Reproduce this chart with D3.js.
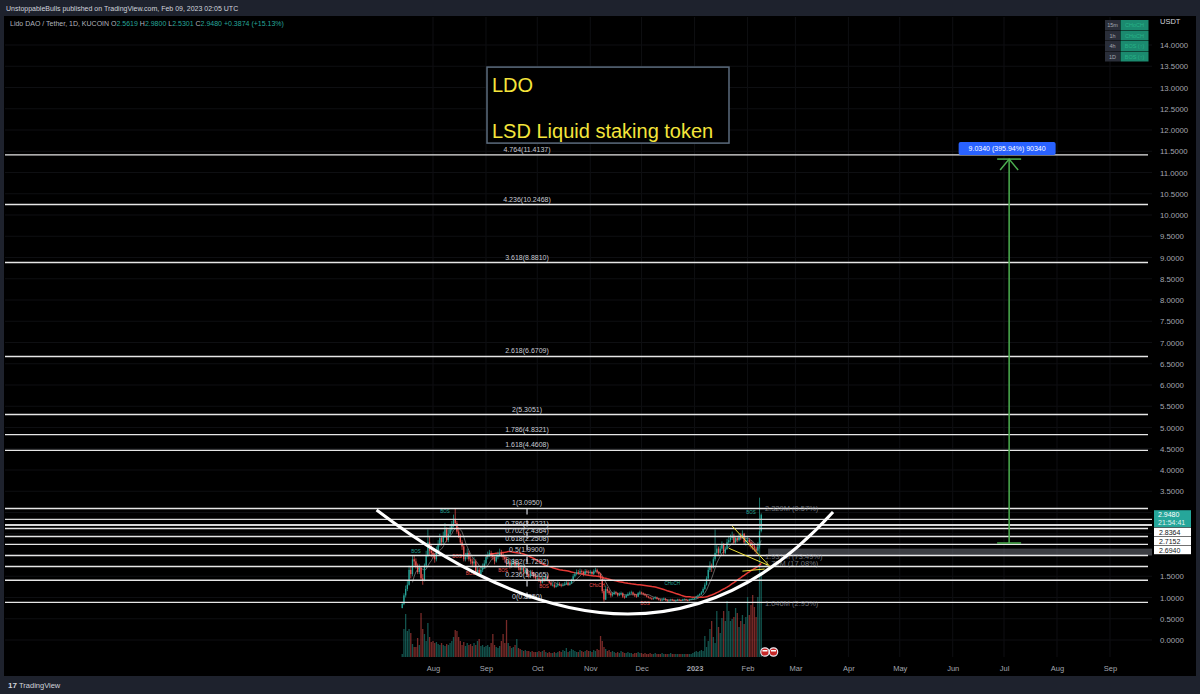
<!DOCTYPE html>
<html><head><meta charset="utf-8">
<script src="https://cdn.jsdelivr.net/npm/d3@7"></script>
<style>
body{margin:0;background:#1e222d;}
svg{display:block;font-family:"Liberation Sans",Arial,sans-serif;}
</style></head>
<body><svg id="c" width="1200" height="694"></svg>
<script>
// ---------------- DATA ----------------
const startDay = "2022-07-14";
const firstOpen = 0.75;
const lastOpen = 2.5619;
const closeJul = [0.85,1.05,1.2,1.3,1.65,1.55,1.9,1.85,1.75,1.6,1.7,1.45,1.4,1.75,2.0,2.3,2.1,2.05];
const highJul  = [0.9,1.1,1.28,1.4,1.75,1.72,1.98,2.0,1.92,1.8,1.78,1.72,1.55,1.8,2.1,2.6,2.45,2.25];
const lowJul   = [0.78,0.82,1.0,1.15,1.28,1.45,1.5,1.75,1.68,1.55,1.55,1.4,1.3,1.38,1.7,1.95,2.0,1.95];
const volJul   = [3,28,43,26,28,24,13,10,10,19,12,44,28,23,16,34,20,15];

const closeAug = [2.0,1.9,2.1,2.25,2.4,2.3,2.45,2.6,2.35,2.5,2.6,2.7,2.85,2.75,2.55,2.45,2.3,2.2,1.9,1.95,2.05,1.9,1.85,1.8,1.85,1.6,1.65,1.55,1.65,1.7,1.8];
const highAug  = [2.15,2.05,2.2,2.35,2.5,2.45,2.55,2.75,2.65,2.6,2.7,2.8,2.95,3.095,2.8,2.65,2.5,2.35,2.25,2.05,2.15,2.1,1.98,1.92,1.95,1.9,1.72,1.7,1.72,1.8,1.88];
const lowAug   = [1.92,1.82,1.85,2.05,2.2,2.22,2.25,2.4,2.3,2.3,2.45,2.55,2.65,2.7,2.5,2.4,2.25,2.12,1.85,1.85,1.9,1.85,1.78,1.72,1.75,1.55,1.55,1.5,1.52,1.6,1.68];
const volAug   = [16,14,15,13,12,14,12,11,13,12,14,16,20,27,26,20,16,12,15,11,14,12,13,11,14,12,16,18,11,12,10];

const closeSep = [1.95,2.0,2.05,2.0,1.95,1.85,1.95,2.0,2.05,2.0,1.95,1.9,1.8,1.85,1.75,1.8,1.85,1.75,1.8,1.7,1.65,1.7,1.6,1.65,1.55,1.5,1.6,1.55,1.5,1.45];
const highSep  = [2.02,2.08,2.12,2.1,2.05,2.0,2.02,2.08,2.15,2.12,2.05,2.0,1.95,1.92,1.9,1.88,1.92,1.9,1.86,1.85,1.76,1.78,1.75,1.7,1.7,1.62,1.65,1.65,1.6,1.56];
const lowSep   = [1.75,1.9,1.95,1.92,1.88,1.78,1.82,1.9,1.95,1.95,1.88,1.82,1.72,1.75,1.68,1.7,1.76,1.7,1.7,1.64,1.58,1.6,1.55,1.56,1.5,1.45,1.46,1.5,1.45,1.4];
const volSep   = [11,12,10,14,23,12,10,9,11,16,23,14,37,14,11,9,10,12,18,9,8,7,6,7,6,6,5,6,5,5];

const closeOct = [1.45,1.4,1.35,1.45,1.4,1.5,1.4,1.35,1.3,1.3,1.25,1.28,1.32,1.3,1.28,1.3,1.32,1.35,1.3,1.33,1.4,1.5,1.55,1.6,1.58,1.62,1.6,1.55,1.62,1.6,1.58];
const highOct  = [1.52,1.5,1.45,1.5,1.48,1.56,1.52,1.42,1.38,1.36,1.34,1.33,1.38,1.36,1.33,1.34,1.37,1.4,1.38,1.37,1.44,1.55,1.6,1.66,1.65,1.68,1.66,1.63,1.67,1.66,1.64];
const lowOct   = [1.4,1.36,1.32,1.33,1.36,1.38,1.38,1.32,1.27,1.26,1.22,1.23,1.25,1.27,1.24,1.26,1.28,1.3,1.27,1.28,1.32,1.38,1.47,1.52,1.54,1.55,1.56,1.5,1.53,1.56,1.54];
const volOct   = [5,6,5,6,7,5,4,5,4,4,5,4,5,6,5,7,6,9,5,6,8,7,6,5,5,7,6,5,6,7,6];

const closeNov = [1.6,1.55,1.62,1.65,1.6,1.55,1.45,1.15,0.95,1.2,1.15,1.1,1.05,1.08,1.12,1.1,1.05,1.08,1.1,1.02,1.0,1.05,1.08,1.1,1.12,1.08,1.05,1.02,1.1,1.12];
const highNov  = [1.65,1.63,1.66,1.7,1.68,1.62,1.58,1.48,1.2,1.28,1.25,1.18,1.14,1.13,1.16,1.15,1.12,1.12,1.14,1.12,1.05,1.08,1.12,1.14,1.16,1.14,1.1,1.08,1.13,1.16];
const lowNov   = [1.54,1.52,1.53,1.6,1.56,1.5,1.42,1.1,0.9,0.94,1.1,1.06,1.0,1.02,1.06,1.06,1.02,1.03,1.05,0.99,0.97,0.99,1.03,1.06,1.08,1.05,1.01,0.99,1.01,1.07];
const volNov   = [6,5,7,6,8,7,21,16,10,8,6,7,5,6,5,4,5,4,6,5,4,4,5,4,4,3,4,4,5,4];

const closeDec = [1.1,1.08,1.05,1.02,1.0,0.98,0.96,0.98,1.0,0.97,0.95,0.93,0.95,0.97,0.94,0.92,0.93,0.95,0.94,0.92,0.93,0.95,0.94,0.93,0.95,0.96,0.94,0.93,0.95,0.96,0.97];
const highDec  = [1.14,1.12,1.1,1.07,1.04,1.02,1.0,1.0,1.03,1.02,0.99,0.97,0.98,1.0,0.99,0.96,0.95,0.97,0.97,0.95,0.95,0.97,0.97,0.95,0.97,0.98,0.97,0.95,0.97,0.98,0.99];
const lowDec   = [1.07,1.05,1.03,1.0,0.98,0.96,0.94,0.95,0.96,0.95,0.93,0.91,0.91,0.93,0.92,0.885,0.9,0.91,0.92,0.9,0.9,0.92,0.92,0.91,0.92,0.93,0.92,0.91,0.92,0.94,0.95];
const volDec   = [4,3,4,3,3,4,3,3,4,3,3,3,4,3,3,3,3,4,3,3,3,3,3,3,3,3,3,3,3,3,4];

const closeJan = [0.99,1.02,1.05,1.08,1.12,1.2,1.3,1.45,1.65,1.75,1.7,1.9,2.05,2.15,2.05,2.15,2.25,2.05,2.15,2.3,2.35,2.4,2.45,2.3,2.4,2.35,2.45,2.4,2.5,2.3,2.35];
const highJan  = [1.0,1.04,1.07,1.1,1.15,1.24,1.35,1.5,1.72,1.85,1.8,1.95,2.6,2.25,2.2,2.22,2.32,2.28,2.2,2.38,2.45,2.48,2.55,2.5,2.45,2.45,2.5,2.52,2.58,2.52,2.42];
const lowJan   = [0.95,0.97,1.0,1.03,1.06,1.1,1.18,1.28,1.42,1.6,1.6,1.68,1.85,2.0,1.98,2.02,2.1,2.0,2.02,2.12,2.25,2.3,2.35,2.25,2.26,2.3,2.32,2.35,2.38,2.25,2.22];
const volJan   = [5,6,5,6,7,6,21,10,16,28,36,20,14,46,30,24,39,46,36,56,46,36,38,40,49,44,30,36,42,33,40];

const closeFeb = [2.35,2.3,2.25,2.2,2.15,2.1,2.2,2.56,2.948];
const highFeb  = [2.45,2.4,2.35,2.3,2.25,2.2,2.3,3.35,2.98];
const lowFeb   = [2.25,2.2,2.15,2.12,2.08,2.02,2.05,2.15,2.5301];
const volFeb   = [60,42,52,62,50,40,60,117,85];

const fibLevels = ["0","0.236","0.382","0.5","0.618","0.702","0.786","1","1.618","1.786","2","2.618","3.618","4.236","4.764"];
const fibPrices = [0.8850,1.4065,1.7292,1.9900,2.2508,2.4364,2.6221,3.0950,4.4608,4.8321,5.3051,6.6709,8.8810,10.2468,11.4137];
const hLinePrices = [2.8364,2.7152,2.6940];
const lastPrice = 2.9480;
const countdown = "21:54:41";

const vpLabels = ["2.329M (0.57%)","1.931M (73.49%)","1.75M (17.08%)","1.046M (2.95%)"];
const vpPrices = [3.10,1.98,1.81,0.87];

// cup arc: quadratic curve (start, control, end) in date / price
const arcDates  = ["2022-06-29","2022-12-05","2023-03-23"];
const arcPrices = [3.06,-1.81,3.01];

const rangeFrom = 2.2817, rangeTo = 11.3157, rangeDate = "2023-07-04";
const rangeLabel = "9.0340 (395.94%) 90340";

const structLabels = [
  ["BOS","2022-08-08",2.99,"up"],["BOS","2022-07-22",2.05,"up"],["BOS","2022-08-15",1.93,"dn"],
  ["BOS","2022-08-23",1.53,"dn"],["BOS","2022-09-11",1.60,"dn"],["BOS","2022-10-05",1.22,"dn"],
  ["CHoCH","2022-11-05",1.25,"dn"],["BOS","2022-12-03",0.82,"dn"],["CHoCH","2022-12-19",1.29,"up"],
  ["BOS","2023-02-03",2.96,"up"]
];
const wedgeLines = [
  ["2023-01-23",2.68,"2023-02-15",1.69],
  ["2023-01-21",2.16,"2023-02-13",1.76],
  ["2023-01-29",1.62,"2023-02-11",1.67]
];
const monthTicks = ["2022-08-01","2022-09-01","2022-10-01","2022-11-01","2022-12-01","2023-01-01","2023-02-01","2023-03-01","2023-04-01","2023-05-01","2023-06-01","2023-07-01","2023-08-01","2023-09-01"];
const monthLabels = ["Aug","Sep","Oct","Nov","Dec","2023","Feb","Mar","Apr","May","Jun","Jul","Aug","Sep"];
const priceTicks = [0,0.5,1,1.5,3.5,4,4.5,5,5.5,6,6.5,7,7.5,8,8.5,9,9.5,10,10.5,11,11.5,12,12.5,13,13.5,14];
const tableRows = ["15m","1h","4h","1D"];
const tableVals = ["CHoCH","CHoCH","BOS (↑)","BOS (↑)"];

// ---------------- BUILD ----------------
const closes = [].concat(closeJul,closeAug,closeSep,closeOct,closeNov,closeDec,closeJan,closeFeb);
const highs  = [].concat(highJul,highAug,highSep,highOct,highNov,highDec,highJan,highFeb);
const lows   = [].concat(lowJul,lowAug,lowSep,lowOct,lowNov,lowDec,lowJan,lowFeb);
const vols   = [].concat(volJul,volAug,volSep,volOct,volNov,volDec,volJan,volFeb);
const pd = d3.utcParse("%Y-%m-%d");
const start = pd(startDay);
const candles = closes.map((c,i)=>{
  const o = i===0?firstOpen:(i===closes.length-1?lastOpen:closes[i-1]);
  return {date:d3.utcDay.offset(start,i),o,c,h:Math.max(highs[i],o,c),l:Math.min(lows[i],o,c),v:vols[i]};
});
function sma(n){return candles.map((d,i)=> i<n-1?null:{date:d.date,v:d3.mean(closes.slice(i-n+1,i+1))}).filter(d=>d);}

const W=1200,H=694;
const PL=5, PR=1152, PT=17, PB=657;
const svg = d3.select("#c");
const x = d3.scaleUtc().domain([pd("2022-08-01"),pd("2023-09-01")]).range([433,1110]);
const y = d3.scaleLinear().domain([0,14]).range([640,45]);
const yv = d3.scaleLinear().domain([0,120]).range([PB,PB-120]);

// frame
svg.append("rect").attr("width",W).attr("height",H).attr("fill","#1e222d");
svg.append("rect").attr("x",4).attr("y",16).attr("width",1192).attr("height",660).attr("fill","#000");

const defs = svg.append("defs");
defs.append("clipPath").attr("id","plot").append("rect").attr("x",PL).attr("y",PT).attr("width",PR-PL).attr("height",PB-PT);
const g = svg.append("g").attr("clip-path","url(#plot)");

// grid
const gridTicks = d3.range(0,14.001,0.5);
g.selectAll(".gh").data(gridTicks).join("line").attr("x1",PL).attr("x2",PR)
 .attr("y1",d=>y(d)).attr("y2",d=>y(d)).attr("stroke","#0e0f12").attr("stroke-width",1);
g.selectAll(".gv").data(monthTicks).join("line").attr("x1",d=>x(pd(d))).attr("x2",d=>x(pd(d)))
 .attr("y1",PT).attr("y2",PB).attr("stroke","#0e0f12").attr("stroke-width",1);

// volume
const bw = 1.3;
g.selectAll(".vol").data(candles).join("rect")
 .attr("x",d=>x(d.date)-bw/2).attr("width",bw)
 .attr("y",d=>yv(d.v)).attr("height",d=>PB-yv(d.v))
 .attr("fill",d=>d.c>=d.o?"rgba(38,166,154,0.5)":"rgba(239,83,80,0.5)");

// gray band (volume profile POC extension)
g.append("rect").attr("x",x(pd("2023-02-13"))).attr("width",PR-x(pd("2023-02-13")))
 .attr("y",y(2.15)).attr("height",y(1.99)-y(2.15)).attr("fill","rgba(110,113,122,0.55)");

// moving averages
const line = d3.line().x(d=>x(d.date)).y(d=>y(d.v));
g.append("path").datum(sma(7)).attr("d",line).attr("fill","none").attr("stroke","rgba(220,220,220,0.55)").attr("stroke-width",0.8);
g.append("path").datum(sma(50)).attr("d",line).attr("fill","none").attr("stroke","#e53935").attr("stroke-width",1.5);

// candles
const cg = g.append("g");
cg.selectAll(".wick").data(candles).join("line")
 .attr("x1",d=>x(d.date)).attr("x2",d=>x(d.date)).attr("y1",d=>y(d.h)).attr("y2",d=>y(d.l))
 .attr("stroke",d=>d.c>=d.o?"#26a69a":"#ef5350").attr("stroke-width",0.7);
cg.selectAll(".body").data(candles).join("rect")
 .attr("x",d=>x(d.date)-bw/2).attr("width",bw)
 .attr("y",d=>y(Math.max(d.o,d.c))).attr("height",d=>Math.max(0.8,Math.abs(y(d.o)-y(d.c))))
 .attr("fill",d=>d.c>=d.o?"#26a69a":"#ef5350");

// structure labels
g.selectAll(".st").data(structLabels).join("text")
 .attr("x",d=>x(pd(d[1]))).attr("y",d=>y(d[2])).attr("text-anchor","middle")
 .attr("font-size",4.5).attr("fill",d=>d[3]==="up"?"#26a69a":"#ef5350").text(d=>d[0]);

// fib dashed anchor line
g.append("line").attr("x1",x(pd("2022-09-25"))).attr("x2",x(pd("2022-09-25")))
 .attr("y1",y(fibPrices[7])).attr("y2",y(fibPrices[0])).attr("stroke","#d1d4dc").attr("stroke-width",1.2).attr("stroke-dasharray","6,6");

// fib lines
g.selectAll(".fib").data(fibPrices).join("line").attr("x1",PL).attr("x2",PR-4)
 .attr("y1",d=>y(d)).attr("y2",d=>y(d)).attr("stroke","#e6e6e6").attr("stroke-width",1.4);
g.selectAll(".hl").data(hLinePrices).join("line").attr("x1",PL).attr("x2",PR)
 .attr("y1",d=>y(d)).attr("y2",d=>y(d)).attr("stroke","#d8d8d8").attr("stroke-width",1.2);
g.selectAll(".fibt").data(fibPrices).join("text")
 .attr("x",x(pd("2022-09-25"))).attr("y",d=>y(d)-3).attr("text-anchor","middle")
 .attr("font-size",7).attr("fill","#c9ccd4")
 .text((d,i)=>fibLevels[i]+"("+d.toFixed(4)+")");

// volume profile labels
g.selectAll(".vp").data(vpPrices).join("text")
 .attr("x",x(pd("2023-02-10"))+2).attr("y",d=>y(d)+3).attr("font-size",7.5)
 .attr("fill","rgba(150,153,162,0.75)").text((d,i)=>vpLabels[i]);

// wedge lines
g.selectAll(".wl").data(wedgeLines).join("line")
 .attr("x1",d=>x(pd(d[0]))).attr("y1",d=>y(d[1])).attr("x2",d=>x(pd(d[2]))).attr("y2",d=>y(d[3]))
 .attr("stroke","#f2e33a").attr("stroke-width",1);

// cup arc (quadratic curve)
const ap = d3.path();
ap.moveTo(x(pd(arcDates[0])),y(arcPrices[0]));
ap.quadraticCurveTo(x(pd(arcDates[1])),y(arcPrices[1]),x(pd(arcDates[2])),y(arcPrices[2]));
g.append("path").attr("d",ap.toString()).attr("fill","none").attr("stroke","#fff").attr("stroke-width",3);

// price range measure
const rx = x(pd(rangeDate));
const rg = g.append("g").attr("stroke","#4caf50").attr("stroke-width",1.5).attr("fill","none");
rg.append("line").attr("x1",rx).attr("x2",rx).attr("y1",y(rangeFrom)).attr("y2",y(rangeTo));
rg.append("line").attr("x1",rx-12).attr("x2",rx+12).attr("y1",y(rangeFrom)).attr("y2",y(rangeFrom));
rg.append("line").attr("x1",rx-12).attr("x2",rx+12).attr("y1",y(rangeTo)).attr("y2",y(rangeTo));
rg.append("path").attr("d",`M${rx-9},${y(rangeTo)+11}L${rx},${y(rangeTo)}L${rx+9},${y(rangeTo)+11}`);
const lblW=97;
g.append("rect").attr("x",rx-lblW/2-2).attr("y",y(rangeTo)-17).attr("width",lblW).attr("height",13).attr("rx",2).attr("fill","#2962ff");
g.append("text").attr("x",rx-2).attr("y",y(rangeTo)-8).attr("text-anchor","middle").attr("font-size",7).attr("fill","#fff").text(rangeLabel);

// text box
const bx = x(pd("2022-09-01")), by = y(13.48);
g.append("rect").attr("x",bx+1).attr("y",by).attr("width",242).attr("height",76).attr("fill","#000").attr("stroke","#5b6b7d").attr("stroke-width",1.5);
g.append("text").attr("x",bx+6).attr("y",by+25).attr("font-size",20).attr("fill","#f5e53b").text("LDO");
g.append("text").attr("x",bx+6).attr("y",by+71).attr("font-size",20).attr("fill","#f5e53b").text("LSD Liquid staking token");

// event icons
[["2023-02-10"],["2023-02-15"]].forEach(d=>{
  const cx=x(pd(d[0]))+2;
  g.append("circle").attr("cx",cx).attr("cy",652).attr("r",4.2).attr("fill","#c62828").attr("stroke","#e8e8f0").attr("stroke-width",1.2);
  g.append("rect").attr("x",cx-2.5).attr("y",650).attr("width",5).attr("height",1.5).attr("fill","#fff");
});

// x axis
const xa = svg.append("g").attr("transform",`translate(0,${PB})`)
 .call(d3.axisBottom(x).tickValues(monthTicks.map(pd)).tickSize(0).tickPadding(9).tickFormat((d,i)=>monthLabels[i]));
xa.select(".domain").remove();
xa.selectAll("text").attr("fill","#a3a6af").attr("font-size",7.5).attr("font-family","Liberation Sans, Arial")
 .attr("font-weight",(d,i)=>monthLabels[i]==="2023"?"bold":"normal");

// y axis
const ya = svg.append("g").attr("transform",`translate(${PR},0)`)
 .call(d3.axisRight(y).tickValues(priceTicks).tickSize(0).tickPadding(8).tickFormat(d3.format(".4f")));
ya.select(".domain").remove();
ya.selectAll("text").attr("fill","#a3a6af").attr("font-size",7.8).attr("font-family","Liberation Sans, Arial");
svg.append("text").attr("x",1160).attr("y",24).attr("font-size",7.5).attr("fill","#d1d4dc").text("USDT");

// price boxes
const boxX=1154, boxW=37;
const lp = y(lastPrice);
svg.append("rect").attr("x",boxX).attr("y",lp-4.5).attr("width",boxW).attr("height",17).attr("fill","#26a69a");
svg.append("text").attr("x",boxX+4).attr("y",lp+2.2).attr("font-size",7).attr("fill","#fff").text(lastPrice.toFixed(4));
svg.append("text").attr("x",boxX+4).attr("y",lp+10.6).attr("font-size",7).attr("fill","#e0f2f1").text(countdown);
hLinePrices.forEach((p,i)=>{
  const yy = lp+13+i*9;
  svg.append("rect").attr("x",boxX).attr("y",yy).attr("width",boxW).attr("height",8.5).attr("fill","#fff");
  svg.append("text").attr("x",boxX+5).attr("y",yy+6.8).attr("font-size",7).attr("fill","#131722").text(p.toFixed(4));
});

// top-right table
tableRows.forEach((r,i)=>{
  const ty = 20+i*10.5;
  svg.append("rect").attr("x",1105).attr("y",ty).attr("width",15).attr("height",10).attr("fill","#2a2e39");
  svg.append("rect").attr("x",1120.5).attr("y",ty).attr("width",28).attr("height",10).attr("fill","#1b8a6f");
  svg.append("text").attr("x",1112.5).attr("y",ty+7).attr("text-anchor","middle").attr("font-size",5.5).attr("fill","#a3a6af").text(r);
  svg.append("text").attr("x",1134.5).attr("y",ty+7).attr("text-anchor","middle").attr("font-size",5.5).attr("fill","#27b387").text(tableVals[i]);
});

// header
svg.append("text").attr("x",6).attr("y",11).attr("font-size",7).attr("fill","#d1d4dc")
 .text("UnstoppableBulls published on TradingView.com, Feb 09, 2023 02:05 UTC");
const hd = svg.append("text").attr("x",10).attr("y",26).attr("font-size",7).attr("fill","#b2b5be");
hd.append("tspan").text("Lido DAO / Tether, 1D, KUCOIN  O");
hd.append("tspan").attr("fill","#26a69a").text("2.5619");
hd.append("tspan").text("  H");
hd.append("tspan").attr("fill","#26a69a").text("2.9800");
hd.append("tspan").text("  L");
hd.append("tspan").attr("fill","#26a69a").text("2.5301");
hd.append("tspan").text("  C");
hd.append("tspan").attr("fill","#26a69a").text("2.9480");
hd.append("tspan").attr("fill","#26a69a").text("  +0.3874 (+15.13%)");

// footer
svg.append("text").attr("x",8).attr("y",688).attr("font-size",8).attr("font-weight","bold").attr("fill","#d1d4dc").text("17");
svg.append("text").attr("x",19).attr("y",688).attr("font-size",7.5).attr("fill","#d1d4dc").text("TradingView");
</script></body></html>
